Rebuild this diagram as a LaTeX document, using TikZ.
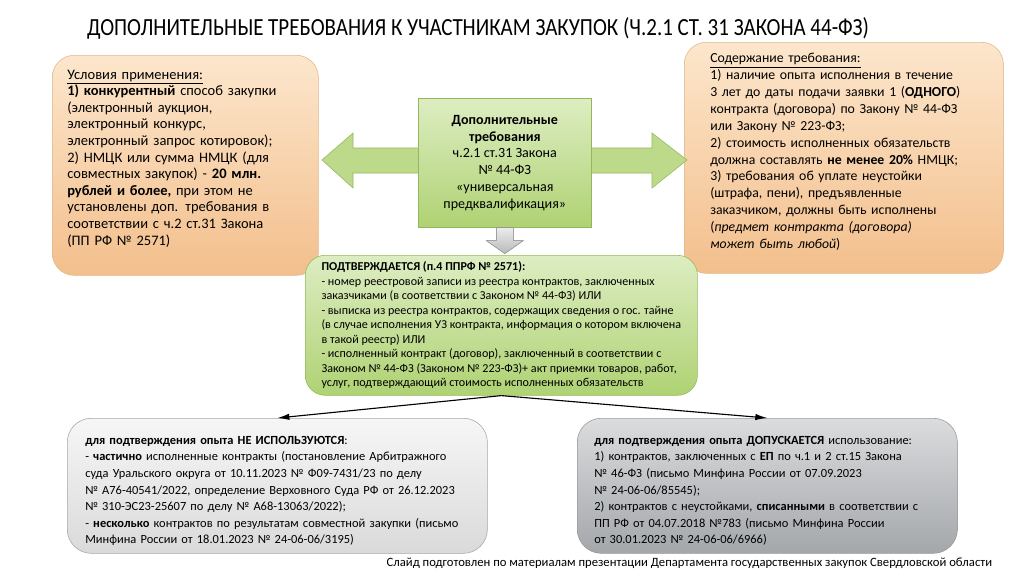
\documentclass[tikz,border=0pt]{standalone}
\usepackage{fontspec}
\setmainfont{Carlito}
\newfontfamily\titlefont[FakeStretch=0.853]{Carlito}
\usepackage{tikz}
\usetikzlibrary{arrows.meta,positioning,calc}

\definecolor{peachtop}{HTML}{FCE6CC}
\definecolor{peachbot}{HTML}{F3BF8C}
\definecolor{peachline}{HTML}{DDB98C}
\definecolor{leaftop}{HTML}{DDEDC2}
\definecolor{leafbot}{HTML}{AFD273}
\definecolor{leafline}{HTML}{93B85B}
\definecolor{greytop}{HTML}{F6F6F6}
\definecolor{greybot}{HTML}{DADADA}
\definecolor{slatetop}{HTML}{DADCDE}
\definecolor{slatebot}{HTML}{A4A7AA}

\tikzset{
  peachbox/.style={draw=peachline, top color=peachtop, bottom color=peachbot,
    rounded corners=0.55cm, anchor=north west, align=left, inner ysep=0pt},
  leafbox/.style={draw=leafline, top color=leaftop, bottom color=leafbot,
    anchor=north west, inner ysep=0pt},
  greybox/.style={draw=gray!70, top color=greytop, bottom color=greybot,
    rounded corners=0.6cm, anchor=north west, align=left, inner ysep=0pt},
  slatebox/.style={draw=gray!80, top color=slatetop, bottom color=slatebot,
    rounded corners=0.6cm, anchor=north west, align=left, inner ysep=0pt},
  pointer/.style={-{Latex[length=3mm,width=1.6mm]}, line width=0.8pt},
}

\begin{document}
\begin{tikzpicture}[x=0.025cm, y=-0.025cm]
    \useasboundingbox (0,0) rectangle (1024,574);

    % Title
    \node[font={\titlefont\fontsize{17.5}{20}\selectfont}] (title) at (478,28)
        {ДОПОЛНИТЕЛЬНЫЕ ТРЕБОВАНИЯ К УЧАСТНИКАМ ЗАКУПОК (Ч.2.1 СТ. 31 ЗАКОНА 44-ФЗ)};

    % Side boxes
    \node[peachbox, minimum width=6.65cm, minimum height=5.5cm, inner xsep=0.375cm,
          text width=5.9cm, text depth=129.2pt, font=\fontsize{10.3}{11.8}\selectfont] (cond) at (52,55)
        {\underline{Условия применения:}\\
         \textbf{1) конкурентный} способ закупки\\
         (электронный аукцион,\\
         электронный конкурс,\\
         электронный запрос котировок);\\
         2) НМЦК или сумма НМЦК (для\\
         совместных закупок) - \textbf{20 млн.}\\
         \textbf{рублей и более,} при этом не\\
         установлены доп. требования в\\
         соответствии с ч.2 ст.31 Закона\\
         (ПП РФ № 2571)};

    \node[peachbox, minimum width=7.975cm, minimum height=5.775cm, inner xsep=0.65cm,
          text width=6.675cm, text depth=141.7pt, font=\fontsize{9.8}{12}\selectfont] (content) at (684,42)
        {\underline{Содержание требования:}\\
         1) наличие опыта исполнения в течение\\
         3 лет до даты подачи заявки 1 (\textbf{ОДНОГО})\\
         контракта (договора) по Закону № 44-ФЗ\\
         или Закону № 223-ФЗ;\\
         2) стоимость исполненных обязательств\\
         должна составлять \textbf{не менее 20\%} НМЦК;\\
         3) требования об уплате неустойки\\
         (штрафа, пени), предъявленные\\
         заказчиком, должны быть исполнены\\
         (\textit{предмет контракта (договора)}\\
         \textit{может быть любой})};

    % Double arrow
    \filldraw[draw=leafline, fill=leafbot!70!leaftop] (322,160) -- (353,133) -- (353,148)
        -- (652,148) -- (652,133) -- (687,160) -- (652,188) -- (652,173)
        -- (353,173) -- (353,188) -- cycle;

    % Central box
    \node[leafbox, minimum width=4.325cm, minimum height=3.225cm, align=center,
          font=\fontsize{10}{11.9}\selectfont] (core) at (418,98)
        {\textbf{Дополнительные}\\
         \textbf{требования}\\
         ч.2.1 ст.31 Закона\\
         № 44-ФЗ\\
         «универсальная\\
         предквалификация»};

    % Down arrow
    \filldraw[draw=gray!80, top color=gray!15, bottom color=gray!55]
        ($(core.south)+(-8.5,0)$) -- ++(0,13) -- ++(-10,0)
        -- ($(core.south)+(0,26)$) -- ($(core.south)+(18.5,13)$)
        -- ($(core.south)+(8.5,13)$) -- ($(core.south)+(8.5,0)$) -- cycle;

    % Proof box
    \node[leafbox, rounded corners=0.5cm, minimum width=9.8cm, minimum height=3.5cm,
          align=left, font=\fontsize{8.6}{10.3}\selectfont] (proof) at (305,255)
        {\textbf{ПОДТВЕРЖДАЕТСЯ (п.4 ППРФ № 2571):}\\
         - номер реестровой записи из реестра контрактов, заключенных\\
         заказчиками (в соответствии с Законом № 44-ФЗ) ИЛИ\\
         - выписка из реестра контрактов, содержащих сведения о гос. тайне\\
         (в случае исполнения УЗ контракта, информация о котором включена\\
         в такой реестр) ИЛИ\\
         - исполненный контракт (договор), заключенный в соответствии с\\
         Законом № 44-ФЗ (Законом № 223-ФЗ)+ акт приемки товаров, работ,\\
         услуг, подтверждающий стоимость исполненных обязательств};

    % Bottom boxes
    \node[greybox, minimum width=10.5cm, minimum height=3.375cm, inner xsep=0.45cm,
          text width=9.6cm, text depth=64.7pt, font=\fontsize{8.85}{11.8}\selectfont] (notused) at (67,418)
        {\textbf{для подтверждения опыта НЕ ИСПОЛЬЗУЮТСЯ}:\\
         - \textbf{частично} исполненные контракты (постановление Арбитражного\\
         суда Уральского округа от 10.11.2023 № Ф09-7431/23 по делу\\
         № А76-40541/2022, определение Верховного Суда РФ от 26.12.2023\\
         № 310-ЭС23-25607 по делу № А68-13063/2022);\\
         - \textbf{несколько} контрактов по результатам совместной закупки (письмо\\
         Минфина России от 18.01.2023 № 24-06-06/3195)};

    \node[slatebox, minimum width=9.5cm, minimum height=3.375cm, inner xsep=0.425cm,
          text width=8.65cm, text depth=64.7pt, font=\fontsize{8.85}{11.8}\selectfont] (allowed) at (577,418)
        {\textbf{для подтверждения опыта ДОПУСКАЕТСЯ} использование:\\
         1) контрактов, заключенных с \textbf{ЕП} по ч.1 и 2 ст.15 Закона\\
         № 46-ФЗ (письмо Минфина России от 07.09.2023\\
         № 24-06-06/85545);\\
         2) контрактов с неустойками, \textbf{списанными} в соответствии с\\
         ПП РФ от 04.07.2018 №783 (письмо Минфина России\\
         от 30.01.2023 № 24-06-06/6966)};

    % Arrows to bottom boxes
    \draw[pointer] (proof.south) -- (notused.north);
    \draw[pointer] (proof.south) -- (allowed.north);

    % Footer
    \node[anchor=east, font=\fontsize{9}{11}\selectfont] (credit) at (997,563)
        {Слайд подготовлен по материалам презентации Департамента государственных закупок Свердловской области};
\end{tikzpicture}
\end{document}
